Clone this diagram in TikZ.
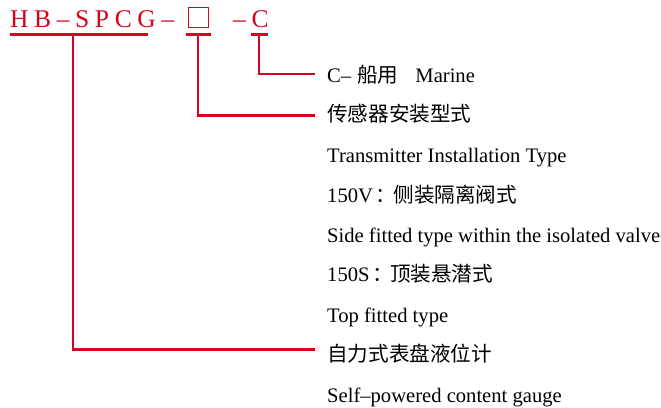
\documentclass[tikz,border=0pt]{standalone}
\usepackage{fontspec}
\setmainfont{Liberation Serif}
\newfontfamily\cjk{Noto Sans CJK SC}
\newfontfamily\titlefont[LetterSpace=22]{Liberation Serif}
\definecolor{codered}{RGB}{218,0,30}
\tikzset{
  codetext/.style={anchor=base west, inner sep=0pt, text=codered, font=\titlefont\fontsize{25.5}{28}\selectfont},
  desc/.style={anchor=base west, inner sep=0pt, text=black, font=\fontsize{20.6}{24}\selectfont},
  leader/.style={draw=codered, line width=2.6pt},
}
\begin{document}
\begin{tikzpicture}[x=1pt,y=-1pt]
\useasboundingbox (0,0) rectangle (661,407);
% code
\node[codetext] (code) at (10,27) {HB–SPCG–};
\node[draw=codered, line width=1pt, minimum width=20pt, minimum height=20pt, inner sep=0pt, anchor=north west] (box) at (188,7) {};
\node[codetext] (suffix) at (233,27) {–C};
% underlines
\coordinate (u1a) at (10,34.7);
\coordinate (u1b) at (148,34.7);
\coordinate (u1) at (73,34.7);
\coordinate (u2a) at (185.5,34.7);
\coordinate (u2b) at (210.5,34.7);
\coordinate (u2) at (198,34.7);
\coordinate (u3a) at (250.5,34.7);
\coordinate (u3b) at (268,34.7);
\coordinate (u3) at (259,34.7);
% descriptions
\node[desc] (t1) at (327,82) {C–\hspace{6pt}{\cjk 船用}\hspace{17pt}Marine};
\node[desc] (t2) at (327,121) {\cjk 传感器安装型式};
\node[desc] (t3) at (327,162) {Transmitter Installation Type};
\node[desc] (t4) at (327,202) {150V\hspace{3pt}{\cjk ：}\hspace{-3pt}{\cjk 侧装隔离阀式}};
\node[desc] (t5) at (327,242) {Side fitted type within the isolated valve};
\node[desc] (t6) at (327,281) {150S\hspace{3pt}{\cjk ：}\hspace{-3pt}{\cjk 顶装悬潜式}};
\node[desc] (t7) at (327,322) {Top fitted type};
\node[desc] (t8) at (327,361) {\cjk 自力式表盘液位计};
\node[desc] (t9) at (327,402) {Self–powered content gauge};
% leader ends
\coordinate (e1) at (315,74);
\coordinate (e2) at (315,115.5);
\coordinate (e8) at (315,349.5);
% leaders
\draw[leader] (u1a) -- (u1b);
\draw[leader] (u2a) -- (u2b);
\draw[leader] (u3a) -- (u3b);
\draw[leader] (u3) |- (e1);
\draw[leader] (u2) |- (e2);
\draw[leader] (u1) |- (e8);
\end{tikzpicture}
\end{document}
